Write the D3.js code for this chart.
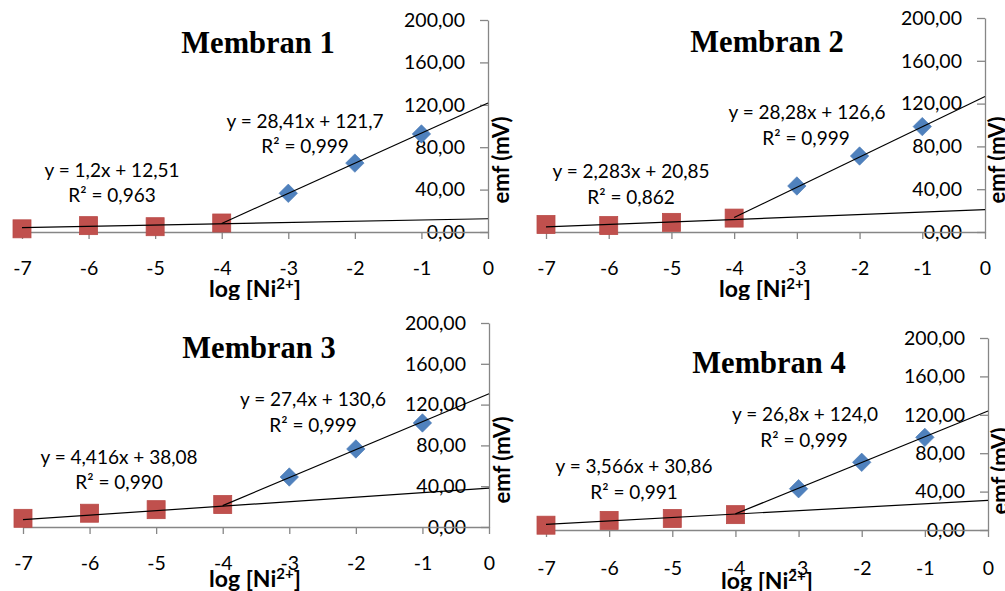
<!DOCTYPE html>
<html>
<head>
<meta charset="utf-8">
<script src="https://cdn.jsdelivr.net/npm/d3@7"></script>
<style>
  body { margin: 0; background: #fff; }
  svg { display: block; }
  text { font-family: Lato, "Open Sans", sans-serif; fill: #000; }
</style>
</head>
<body>
<div class="chart"></div>
<script>
// data
const xTicks = [-7, -6, -5, -4, -3, -2, -1, 0];
const yTicks = [0, 40, 80, 120, 160, 200];
const titles = ['Membran 1', 'Membran 2', 'Membran 3', 'Membran 4'];
const lowX = [-7, -6, -5, -4];
const highX = [-3, -2, -1];
const lowValues = [
    [3, 6, 5, 8.5],
    [7, 6, 9, 13],
    [8.5, 13.5, 17, 22],
    [5, 10, 12, 16]
];
const highValues = [
    [36.5, 65, 92.5],
    [43, 71, 98.5],
    [49, 76.5, 102],
    [43, 70.5, 96.5]
];
const lowFits = [[1.2, 12.51], [2.283, 20.85], [4.416, 38.08], [3.566, 30.86]];
const highFits = [[28.41, 121.7], [28.28, 126.6], [27.4, 130.6], [26.8, 124.0]];
const lowEqs = ['y = 1,2x + 12,51', 'y = 2,283x + 20,85', 'y = 4,416x + 38,08', 'y = 3,566x + 30,86'];
const highEqs = ['y = 28,41x + 121,7', 'y = 28,28x + 126,6', 'y = 27,4x + 130,6', 'y = 26,8x + 124,0'];
const lowR2 = ['0,963', '0,862', '0,990', '0,991'];
const highR2 = ['0,999', '0,999', '0,999', '0,999'];

const fullWidth = 1005;
const fullHeight = 591;

// layout of each panel (pixel positions)
const panels = [
    {x0: 22, x1: 488, y0: 232, y1: 20, clip: [0, 300], title: [258, 53],
     eqHigh: [305, 128], r2High: [305, 153], eqLow: [112, 177], r2Low: [112, 202],
     xTickY: 268, xTitle: [255, 297], yTitle: [501, 160]},
    {x0: 546, x1: 985, y0: 232, y1: 18, clip: [0, 300], title: [767, 52],
     eqHigh: [807, 119], r2High: [806, 145], eqLow: [631, 178], r2Low: [631, 204],
     xTickY: 268, xTitle: [765, 297], yTitle: [997, 160]},
    {x0: 23, x1: 489, y0: 527, y1: 323, clip: [300, 591], title: [259, 358],
     eqHigh: [313, 406], r2High: [313, 432], eqLow: [119, 464], r2Low: [119, 489],
     xTickY: 563, xTitle: [255, 587], yTitle: [502, 460]},
    {x0: 546, x1: 988, y0: 530, y1: 338, clip: [300, 591], title: [769, 373],
     eqHigh: [805, 421], r2High: [804, 447], eqLow: [634, 473], r2Low: [634, 499],
     xTickY: 568, xTitle: [767, 589], yTitle: [1000, 471]}
];

const axisColor = '#868686';
const red = '#C0504D';
const blue = '#4F81BD';

const svg = d3.select('.chart')
    .append('svg')
        .attr('width', fullWidth)
        .attr('height', fullHeight);

const defs = svg.append('defs');

panels.forEach((p, i) => {
    defs.append('clipPath')
        .attr('id', 'clip' + i)
        .append('rect')
            .attr('x', 0)
            .attr('y', p.clip[0])
            .attr('width', fullWidth)
            .attr('height', p.clip[1] - p.clip[0]);

    const g = svg.append('g').attr('clip-path', `url(#clip${i})`);

    const xScale = d3.scaleLinear().domain([-7, 0]).range([p.x0, p.x1]);
    const yScale = d3.scaleLinear().domain([0, 200]).range([p.y0, p.y1]);

    // title
    g.append('text')
        .attr('x', p.title[0])
        .attr('y', p.title[1])
        .attr('text-anchor', 'middle')
        .style('font-family', '"Liberation Serif", "Times New Roman", serif')
        .style('font-weight', 'bold')
        .style('font-size', '30.5px')
        .text(titles[i]);

    // y axis on the right side (at x = 0)
    const yAxis = d3.axisLeft(yScale)
        .tickValues(yTicks)
        .tickSize(8)
        .tickSizeOuter(0)
        .tickPadding(15)
        .tickFormat(d => d.toFixed(2).replace('.', ','));
    const yG = g.append('g')
        .attr('transform', `translate(${xScale(0)}, 0)`)
        .call(yAxis);

    // x axis at y = 0
    const xAxis = d3.axisBottom(xScale)
        .tickValues(xTicks)
        .tickSize(7)
        .tickSizeOuter(0)
        .tickFormat(d => String(d));
    const xG = g.append('g')
        .attr('transform', `translate(0, ${yScale(0)})`)
        .call(xAxis);
    xG.selectAll('text')
        .attr('y', p.xTickY - yScale(0))
        .attr('dy', '0.35em');

    [yG, xG].forEach(a => {
        a.select('.domain').attr('stroke', axisColor).attr('stroke-width', 1.3);
        a.selectAll('.tick line').attr('stroke', axisColor).attr('stroke-width', 1.3);
        a.selectAll('text')
            .style('font-family', 'Lato, sans-serif')
            .style('font-size', '19.5px')
            .attr('fill', '#000');
    });

    // markers
    g.selectAll('.sq')
        .data(lowValues[i])
        .enter()
        .append('rect')
            .attr('class', 'sq')
            .attr('x', (d, j) => xScale(lowX[j]) - 9)
            .attr('y', d => yScale(d) - 9)
            .attr('width', 18)
            .attr('height', 18)
            .attr('fill', red)
            .attr('stroke', '#B94A47')
            .attr('stroke-width', 0.8);

    g.selectAll('.dm')
        .data(highValues[i])
        .enter()
        .append('path')
            .attr('class', 'dm')
            .attr('d', d3.symbol().type(d3.symbolSquare).size(170)())
            .attr('transform', (d, j) => `translate(${xScale(highX[j])}, ${yScale(d)}) rotate(45)`)
            .attr('fill', blue)
            .attr('stroke', '#4A7AB5')
            .attr('stroke-width', 0.6);

    // trend lines
    const line = d3.line().x(d => xScale(d[0])).y(d => yScale(d[1]));
    const lf = lowFits[i], hf = highFits[i];
    g.append('path')
        .attr('d', line([[-7, lf[0] * -7 + lf[1]], [0, lf[1]]]))
        .attr('fill', 'none')
        .attr('stroke', '#000')
        .attr('stroke-width', 1.2);
    g.append('path')
        .attr('d', line([[-4, hf[0] * -4 + hf[1]], [0, hf[1]]]))
        .attr('fill', 'none')
        .attr('stroke', '#000')
        .attr('stroke-width', 1.2);

    // equation labels
    const labels = [
        [p.eqHigh, highEqs[i]],
        [p.r2High, 'R² = ' + highR2[i]],
        [p.eqLow, lowEqs[i]],
        [p.r2Low, 'R² = ' + lowR2[i]]
    ];
    labels.forEach(l => {
        g.append('text')
            .attr('x', l[0][0])
            .attr('y', l[0][1])
            .attr('text-anchor', 'middle')
            .style('font-size', '19px')
            .text(l[1]);
    });

    // axis titles
    const xt = g.append('text')
        .attr('x', p.xTitle[0])
        .attr('y', p.xTitle[1])
        .attr('text-anchor', 'middle')
        .style('font-weight', 'bold')
        .style('font-size', '23px');
    xt.append('tspan').text('log [Ni');
    xt.append('tspan').attr('dy', -8).style('font-size', '15px').text('2+');
    xt.append('tspan').attr('dy', 8).text(']');

    g.append('text')
        .attr('transform', `translate(${p.yTitle[0]}, ${p.yTitle[1]}) rotate(-90)`)
        .attr('text-anchor', 'middle')
        .attr('dy', '0.35em')
        .style('font-weight', 'bold')
        .style('font-size', '22px')
        .text('emf (mV)');
});
</script>
</body>
</html>
